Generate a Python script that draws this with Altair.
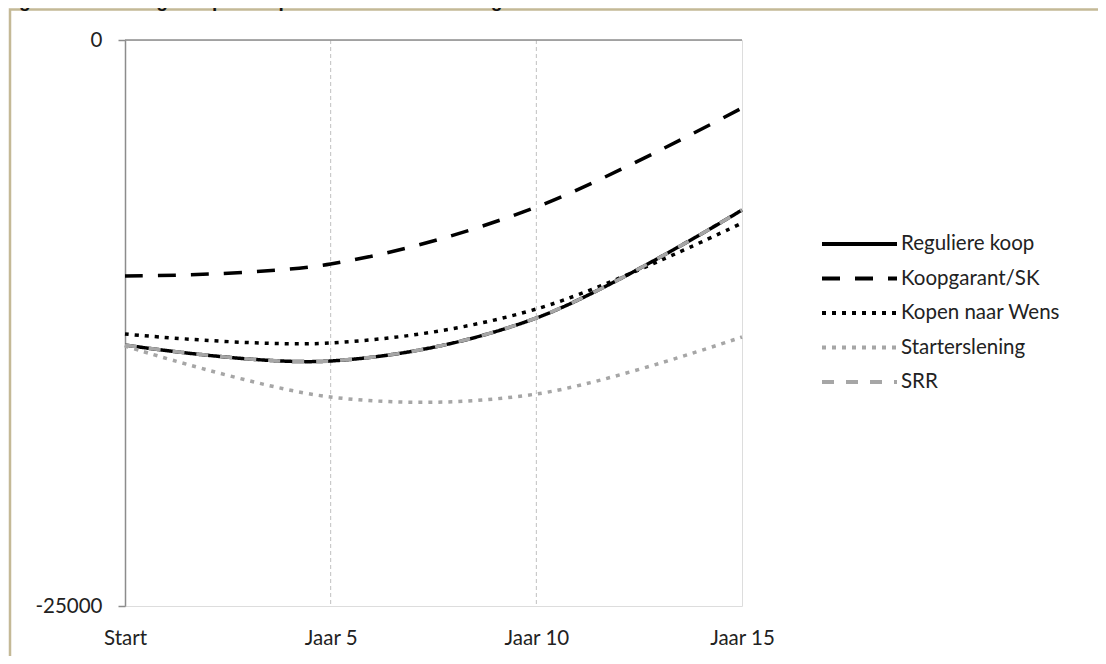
import altair as alt
import pandas as pd

# ---- data ----
series = ["Reguliere koop", "Koopgarant/SK", "Kopen naar Wens", "Starterslening", "SRR"]
years = [0, 5, 10, 15]
x_labels = ["Start", "Jaar 5", "Jaar 10", "Jaar 15"]
reguliere_koop = [-13472, -14178, -12279, -7509]
koopgarant_sk = [-10424, -9894, -7376, -3004]
kopen_naar_wens = [-12986, -13383, -11882, -8083]
starterslening = [-13516, -15769, -15636, -13118]
srr = [-13472, -14178, -12279, -7509]
y_ticks = [0, -25000]
grid_years = [5, 10]
title_text = "Figuur 7.4 Vermogensopbouw per variant voor het Stagnatiescenario"

# ---- styling ----
colors = ["#000000", "#000000", "#000000", "#a6a6a6", "#a6a6a6"]
dashes = [[1, 0], [18, 15], [4, 6], [4, 6], [12, 12]]
FONT = "Lato"
FS = 20.5
TXT = "#222222"
W, H = 617, 566

values_by_series = [reguliere_koop, koopgarant_sk, kopen_naar_wens, starterslening, srr]
rows = []
for name, vals in zip(series, values_by_series):
    for yr, v in zip(years, vals):
        rows.append({"series": name, "year": yr, "value": v})
df = pd.DataFrame(rows)

label_expr = "''"
for yr, lab in reversed(list(zip(years, x_labels))):
    label_expr = f"datum.value == {yr} ? '{lab}' : ({label_expr})"

x_scale = alt.Scale(domain=[0, 15], nice=False, zero=False)
y_scale = alt.Scale(domain=[-25000, 0], nice=False)

frame = alt.Chart(pd.DataFrame({"k": [0]})).mark_rect(
    fill="transparent", stroke="#c4b996", strokeWidth=2.5
).encode(x=alt.value(-115), x2=alt.value(1000), y=alt.value(-30.5), y2=alt.value(700))

title = alt.Chart(pd.DataFrame({"t": [title_text]})).mark_text(
    align="left", baseline="alphabetic", font="Arial", fontWeight="bold",
    fontSize=19, color="#111111"
).encode(text="t:N", x=alt.value(-123), y=alt.value(-33))

grid = alt.Chart(pd.DataFrame({"year": grid_years})).mark_rule(
    color="#c0c0c0", strokeDash=[4, 3], strokeWidth=1
).encode(x=alt.X("year:Q", scale=x_scale))

zero_line = alt.Chart(pd.DataFrame({"v": [0]})).mark_rule(
    color="#8c8c8c", strokeWidth=1.5
).encode(y=alt.Y("v:Q", scale=y_scale), x=alt.value(0), x2=alt.value(W))

legend = alt.Legend(
    title=None, orient="none", legendX=695, legendY=194,
    symbolType="stroke", symbolSize=5625, symbolStrokeWidth=4,
    clipHeight=20, rowPadding=13.5, labelOffset=2,
    labelFont=FONT, labelFontSize=FS, labelColor=TXT,
)

lines = alt.Chart(df).mark_line(
    interpolate="cardinal", strokeWidth=3.5, strokeCap="butt"
).encode(
    x=alt.X("year:Q", scale=x_scale, title=None,
            axis=alt.Axis(values=years, labelExpr=label_expr, grid=False,
                          domain=False, ticks=False, labelPadding=22,
                          labelFont=FONT, labelFontSize=FS, labelColor=TXT,
                          labelFlush=False, labelOverlap=False)),
    y=alt.Y("value:Q", scale=y_scale, title=None,
            axis=alt.Axis(values=y_ticks, labelExpr="'' + datum.value", grid=False,
                          domainColor="#8c8c8c", domainWidth=1.5,
                          tickColor="#8c8c8c", tickWidth=1.5, tickSize=7,
                          labelPadding=16, labelFont=FONT, labelFontSize=FS,
                          labelColor=TXT, labelFlush=False, labelOverlap=False)),
    color=alt.Color("series:N", sort=series,
                    scale=alt.Scale(domain=series, range=colors), legend=legend),
    strokeDash=alt.StrokeDash("series:N", sort=series,
                              scale=alt.Scale(domain=series, range=dashes), legend=legend),
)

chart = alt.layer(frame, title, grid, zero_line, lines).properties(
    width=W, height=H,
    autosize=alt.AutoSizeParams(type="none"),
    padding={"left": 117, "top": 32, "right": 356, "bottom": 50},
).configure_view(stroke="#e6e1d3", strokeWidth=1).configure(background="white")

chart.save("out.html", embed_options={"renderer": "svg", "actions": False})
